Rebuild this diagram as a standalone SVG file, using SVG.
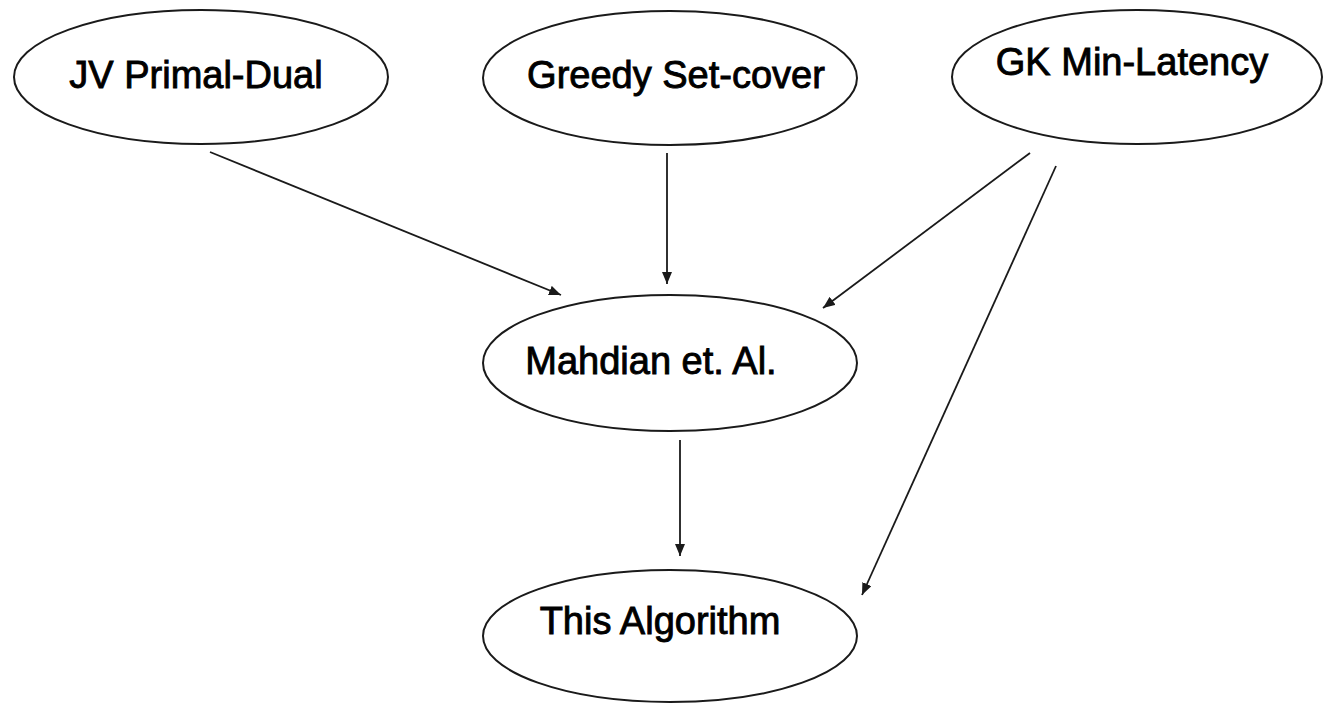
<svg xmlns="http://www.w3.org/2000/svg" width="1324" height="704" viewBox="0 0 1324 704">
  <style>
    .node ellipse { fill: #ffffff; stroke: #1a1a1a; stroke-width: 2; }
    .node text { font-family: "Liberation Sans", Arial, sans-serif; font-size: 38px; fill: #000000; text-anchor: middle; stroke: #000000; stroke-width: 0.9; }
    .edge { stroke: #1a1a1a; stroke-width: 1.8; fill: none; marker-end: url(#arrow); }
  </style>
  <defs>
    <marker id="arrow" viewBox="0 0 12 10" refX="12" refY="5" markerWidth="12" markerHeight="10" markerUnits="userSpaceOnUse" orient="auto">
      <path d="M0,0 L12,5 L0,10 Z" fill="#1a1a1a"/>
    </marker>
  </defs>
  <rect width="1324" height="704" fill="#ffffff"/>

  <g id="connectors">
    <line class="edge" x1="210" y1="152" x2="561" y2="295"/>
    <line class="edge" x1="667" y1="153" x2="667" y2="284"/>
    <line class="edge" x1="1030" y1="153" x2="823" y2="308"/>
    <line class="edge" x1="1056" y1="166" x2="862" y2="595"/>
    <line class="edge" x1="680" y1="440" x2="680" y2="556"/>
  </g>

  <g id="jv-primal-dual" class="node">
    <ellipse cx="201" cy="77" rx="187" ry="67"/>
    <text x="196" y="88">JV Primal-Dual</text>
  </g>
  <g id="greedy-set-cover" class="node">
    <ellipse cx="670" cy="78" rx="187" ry="67"/>
    <text x="676" y="88">Greedy Set-cover</text>
  </g>
  <g id="gk-min-latency" class="node">
    <ellipse cx="1137" cy="77" rx="185" ry="67"/>
    <text x="1132" y="75">GK Min-Latency</text>
  </g>
  <g id="mahdian-et-al" class="node">
    <ellipse cx="670" cy="363" rx="187" ry="68"/>
    <text x="651" y="374">Mahdian et. Al.</text>
  </g>
  <g id="this-algorithm" class="node">
    <ellipse cx="670" cy="636" rx="187" ry="66"/>
    <text x="660" y="634">This Algorithm</text>
  </g>
</svg>
